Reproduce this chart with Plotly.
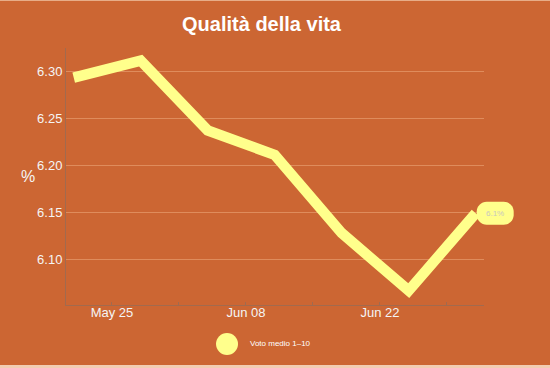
import plotly.graph_objects as go
import pandas as pd

# ---- data ----
dates = ["2020-05-21", "2020-05-28", "2020-06-04", "2020-06-11",
         "2020-06-18", "2020-06-25", "2020-07-02"]
values = [6.293, 6.311, 6.237, 6.211, 6.128, 6.067, 6.149]
series_name = "Voto medio 1–10"
title_text = "Qualità della vita"
y_title = "%"
y_ticks = [6.10, 6.15, 6.20, 6.25, 6.30]
last_label = f"{values[-1]:.1f}%"

BG = "#cc6633"
LINE = "#ffff8c"
GRID = "#df8c5c"
AXIS = "rgba(110,110,110,0.45)"
FONT = "Liberation Sans, Arial, sans-serif"

x_range = ["2020-05-20 04:40", "2020-07-02 20:50"]
y_range = [6.0517, 6.3244]

fig = go.Figure()
fig.add_trace(go.Scatter(
    x=dates, y=values, mode="lines", name=series_name,
    line=dict(color=LINE, width=10.5), showlegend=False, hoverinfo="skip",
))

# paper position of the last point (so the label pill is not clipped)
t0, t1 = pd.Timestamp(x_range[0]), pd.Timestamp(x_range[1])
last_px = (pd.Timestamp(dates[-1]) - t0) / (t1 - t0)
last_py = (values[-1] - y_range[0]) / (y_range[1] - y_range[0])

shapes = []
r = 10
x0p, x1p, h = 1, 38, 11.5
k = 0.5523 * r
pill = (f"M {x0p + r},{h} L {x1p - r},{h} "
        f"C {x1p - r + k},{h} {x1p},{h - r + k} {x1p},{h - r} "
        f"L {x1p},{-h + r} "
        f"C {x1p},{-h + r - k} {x1p - r + k},{-h} {x1p - r},{-h} "
        f"L {x0p + r},{-h} "
        f"C {x0p + r - k},{-h} {x0p},{-h + r - k} {x0p},{-h + r} "
        f"L {x0p},{h - r} "
        f"C {x0p},{h - r + k} {x0p + r - k},{h} {x0p + r},{h} Z")
shapes.append(dict(type="path", xref="paper", yref="paper",
                   xsizemode="pixel", ysizemode="pixel",
                   xanchor=last_px, yanchor=last_py,
                   path=pill, fillcolor=LINE, line=dict(width=0), layer="above"))
# legend marker
shapes.append(dict(type="circle", xref="paper", yref="paper",
                   xsizemode="pixel", ysizemode="pixel",
                   xanchor=0.3852, yanchor=0,
                   x0=-11, x1=11, y0=-50, y1=-28,
                   fillcolor=LINE, line=dict(width=0)))
# thin lighter frame strips (top and bottom edges)
shapes.append(dict(type="rect", xref="paper", yref="paper",
                   ysizemode="pixel", yanchor=1, y0=47, y1=49,
                   x0=-0.3, x1=1.3, fillcolor="#e7ad88", line=dict(width=0)))
shapes.append(dict(type="rect", xref="paper", yref="paper",
                   ysizemode="pixel", yanchor=0, y0=-60, y1=-66,
                   x0=-0.3, x1=1.3, fillcolor="#f2cdb2", line=dict(width=0)))

annotations = [
    dict(x=last_px, y=last_py, xref="paper", yref="paper", text=last_label,
         showarrow=False, xshift=19.5, yshift=0,
         xanchor="center", yanchor="middle",
         font=dict(family=FONT, size=8, color="#c8c8c0")),
    dict(x=0, y=0.5, xref="paper", yref="paper", text=y_title,
         showarrow=False, xshift=-38, xanchor="center", yanchor="middle",
         font=dict(family=FONT, size=16, color="#f5f5f5")),
    dict(x=0.4402, y=0, xref="paper", yref="paper", text=series_name,
         showarrow=False, xanchor="left", yanchor="middle", yshift=-38.5,
         xshift=-2,
         font=dict(family=FONT, size=8, color="#ffffff")),
]

fig.update_layout(
    width=550, height=368,
    margin=dict(l=66, r=66, t=48, b=63),
    paper_bgcolor=BG, plot_bgcolor=BG,
    font=dict(family=FONT, color="#f5f5f5", size=13),
    title=dict(text=f"<b>{title_text}</b>", x=0.4755, xref="container",
               xanchor="center", y=1 - 24 / 368, yref="container",
               yanchor="middle",
               font=dict(family=FONT, size=20, color="#ffffff")),
    showlegend=False,
    shapes=shapes,
    annotations=annotations,
    xaxis=dict(
        type="date", range=x_range,
        tick0="2020-05-25", dtick=14 * 86400000, tickformat="%b %d",
        showgrid=False, zeroline=False,
        showline=True, linecolor=AXIS, linewidth=1,
        ticks="inside", ticklen=3, tickcolor=AXIS,
        minor=dict(dtick=7 * 86400000, tick0="2020-05-25", ticks="inside",
                   ticklen=3, tickcolor=AXIS, showgrid=False),
        tickfont=dict(family=FONT, size=13, color="#f5f5f5"),
        ticklabelstandoff=-5,
        fixedrange=True,
    ),
    yaxis=dict(
        range=y_range,
        tickvals=y_ticks, ticktext=[f"{v:.2f}" for v in y_ticks],
        showgrid=True, gridcolor=GRID, gridwidth=1, zeroline=False,
        showline=True, linecolor=AXIS, linewidth=1,
        ticks="", ticklabelstandoff=0,
        tickfont=dict(family=FONT, size=13, color="#f5f5f5"),
        fixedrange=True,
    ),
)

fig.write_html("out.html",
               config={"displayModeBar": False, "staticPlot": True},
               post_script="document.body.style.margin='0';"
                           "document.body.style.padding='0';")
